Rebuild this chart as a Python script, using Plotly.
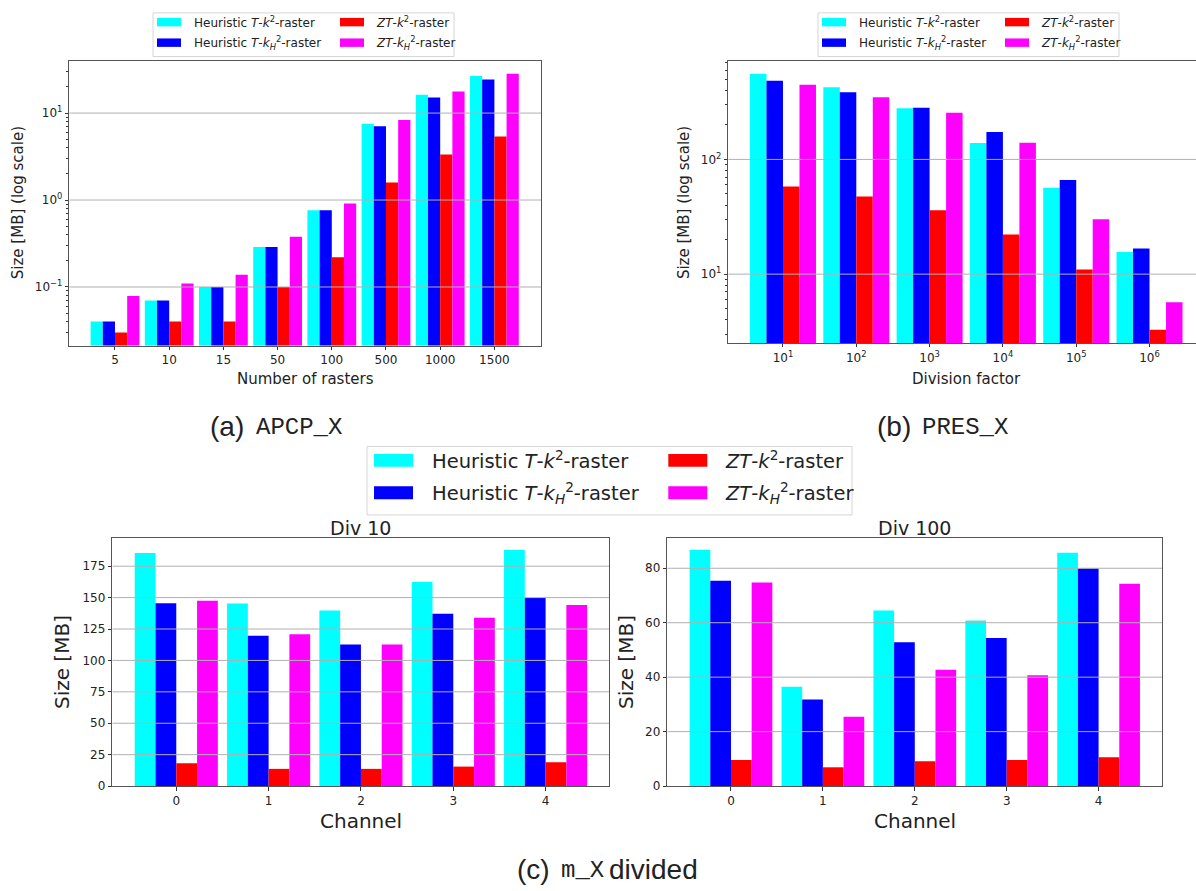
import math
import plotly.graph_objects as go

W, H = 1196, 891

# ---------------- data ----------------
SERIES_NAMES = [
    "Heuristic <i>T</i>-<i>k</i><sup>2</sup>-raster",
    "Heuristic <i>T</i>-<i>k</i><sub><i>H</i></sub><sup>2</sup>-raster",
    "<i>ZT</i>-<i>k</i><sup>2</sup>-raster",
    "<i>ZT</i>-<i>k</i><sub><i>H</i></sub><sup>2</sup>-raster",
]
COLORS = ["#00ffff", "#0000ff", "#ff0000", "#ff00ff"]

apcp_categories = ["5", "10", "15", "50", "100", "500", "1000", "1500"]
apcp_heur_k2 = [0.040, 0.070, 0.100, 0.288, 0.762, 7.56, 16.3, 26.7]
apcp_heur_k2h = [0.040, 0.070, 0.100, 0.288, 0.762, 7.04, 15.1, 24.4]
apcp_zt_k2 = [0.030, 0.040, 0.040, 0.100, 0.220, 1.59, 3.35, 5.37]
apcp_zt_k2h = [0.079, 0.110, 0.138, 0.378, 0.91, 8.32, 17.7, 28.3]

pres_categories = ["10<sup>1</sup>", "10<sup>2</sup>", "10<sup>3</sup>",
                   "10<sup>4</sup>", "10<sup>5</sup>", "10<sup>6</sup>"]
pres_heur_k2 = [557, 425, 280, 139, 56.5, 15.6]
pres_heur_k2h = [485, 385, 282, 173, 66.2, 16.7]
pres_zt_k2 = [58.0, 47.5, 36.0, 22.2, 11.0, 3.28]
pres_zt_k2h = [448, 348, 255, 140, 30.1, 5.69]

channels = ["0", "1", "2", "3", "4"]
div10_heur_k2 = [185.5, 145.3, 139.7, 162.4, 187.9]
div10_heur_k2h = [145.5, 119.7, 112.6, 137.1, 149.7]
div10_zt_k2 = [18.2, 13.7, 13.7, 15.5, 18.9]
div10_zt_k2h = [147.4, 120.8, 112.6, 133.9, 144.2]

div100_heur_k2 = [86.8, 36.5, 64.5, 60.8, 85.7]
div100_heur_k2h = [75.4, 31.8, 52.8, 54.4, 79.9]
div100_zt_k2 = [9.6, 6.9, 9.1, 9.6, 10.6]
div100_zt_k2h = [74.8, 25.5, 42.7, 40.7, 74.3]

log_ticks_a = [0.1, 1, 10]
log_labels_a = ["10<sup>\u22121</sup>", "10<sup>0</sup>", "10<sup>1</sup>"]
log_ticks_b = [10, 100]
log_labels_b = ["10<sup>1</sup>", "10<sup>2</sup>"]
lin_ticks_c1 = [0, 25, 50, 75, 100, 125, 150, 175]
lin_ticks_c2 = [0, 20, 40, 60, 80]

FONT = "DejaVu Sans"
MONO = "Liberation Mono"
SANS2 = "Liberation Sans"
TXT = "#222222"
GRID = "#b0b0b0"
FRAME = "#555555"


def fx(p):
    return p / W


def fy(p):
    return 1 - p / H


fig = go.Figure()

panels = [
    ("", apcp_categories, [apcp_heur_k2, apcp_heur_k2h, apcp_zt_k2, apcp_zt_k2h], log_ticks_a),
    ("2", pres_categories, [pres_heur_k2, pres_heur_k2h, pres_zt_k2, pres_zt_k2h], log_ticks_b),
    ("3", channels, [div10_heur_k2, div10_heur_k2h, div10_zt_k2, div10_zt_k2h], lin_ticks_c1),
    ("4", channels, [div100_heur_k2, div100_heur_k2h, div100_zt_k2, div100_zt_k2h], lin_ticks_c2),
]

xranges = {"": [-0.843, 7.86], "2": [-0.746, 5.634], "3": [-0.693, 4.69], "4": [-0.693, 4.69]}

for suf, cats, series, gticks in panels:
    xs = list(range(len(cats)))
    for name, col, vals in zip(SERIES_NAMES, COLORS, series):
        fig.add_trace(go.Bar(
            x=xs, y=vals, name=name, marker=dict(color=col, line=dict(width=0)),
            xaxis="x" + suf, yaxis="y" + suf, showlegend=False,
        ))
    # grid lines drawn above bars (matplotlib default)
    xr = xranges[suf]
    for v in gticks:
        if v == 0:
            continue
        fig.add_trace(go.Scatter(
            x=xr, y=[v, v], mode="lines", line=dict(color=GRID, width=1),
            xaxis="x" + suf, yaxis="y" + suf, showlegend=False, hoverinfo="skip",
        ))

tickfont = dict(family=FONT, size=12, color=TXT)
common_x = dict(showgrid=False, zeroline=False, showline=True, linecolor=FRAME, linewidth=1,
                ticks="outside", ticklen=3.5, tickwidth=0.8, tickcolor="#333", tickfont=tickfont,
                tickmode="array")
common_y = dict(showgrid=False, zeroline=False, showline=True, linecolor=FRAME, linewidth=1,
                ticks="outside", ticklen=3.5, tickwidth=0.8, tickcolor="#333", tickfont=tickfont,
                tickmode="array")


def minor_logs(lo, hi):
    out = []
    for e in range(int(math.floor(lo)) - 1, int(math.ceil(hi)) + 1):
        for m in range(2, 10):
            v = m * 10 ** e
            if lo <= math.log10(v) <= hi:
                out.append(v)
    return out


ya_range = [math.log10(0.0212), math.log10(39.9)]
yb_range = [math.log10(2.51), math.log10(718)]

fig.update_layout(
    width=W, height=H, margin=dict(l=0, r=0, t=0, b=0),
    paper_bgcolor="white", plot_bgcolor="white",
    barmode="group", bargap=0.1, bargroupgap=0,
    showlegend=False,
    font=dict(family=FONT, color=TXT),
    xaxis=dict(common_x, domain=[fx(69.3), fx(541)], range=xranges[""], anchor="y",
               tickvals=list(range(len(apcp_categories))), ticktext=apcp_categories, mirror=True),
    yaxis=dict(common_y, domain=[fy(348.3), fy(61.3)], type="log", range=ya_range, anchor="x",
               tickvals=log_ticks_a, ticktext=log_labels_a, mirror=True,
               minor=dict(tickmode="array", tickvals=minor_logs(*ya_range), ticks="outside",
                          ticklen=2, tickwidth=0.6, tickcolor="#333", showgrid=False)),
    xaxis2=dict(common_x, domain=[fx(728.3), 1.0], range=xranges["2"], anchor="y2",
                tickvals=list(range(len(pres_categories))), ticktext=pres_categories, mirror=True),
    yaxis2=dict(common_y, domain=[fy(345.7), fy(61.7)], type="log", range=yb_range, anchor="x2",
                tickvals=log_ticks_b, ticktext=log_labels_b, mirror=False,
                minor=dict(tickmode="array", tickvals=minor_logs(*yb_range), ticks="outside",
                           ticklen=2, tickwidth=0.6, tickcolor="#333", showgrid=False)),
    xaxis3=dict(common_x, domain=[fx(112.3), fx(609.3)], range=xranges["3"], anchor="y3",
                tickvals=list(range(len(channels))), ticktext=channels, mirror=True),
    yaxis3=dict(common_y, domain=[fy(792.3), fy(542.3)], range=[0, 197.4], anchor="x3",
                tickvals=lin_ticks_c1, mirror=True),
    xaxis4=dict(common_x, domain=[fx(667.3), fx(1162)], range=xranges["4"], anchor="y4",
                tickvals=list(range(len(channels))), ticktext=channels, mirror=True),
    yaxis4=dict(common_y, domain=[fy(792.3), fy(542.3)], range=[0, 91.1], anchor="x4",
                tickvals=lin_ticks_c2, mirror=True),
)

annotations = []
shapes = []


def add_text(text, x, y, size, angle=0, xanchor="center", family=FONT):
    annotations.append(dict(text=text, x=fx(x), y=fy(y), xref="paper", yref="paper",
                            showarrow=False, xanchor=xanchor, yanchor="middle",
                            textangle=angle, font=dict(family=family, size=size, color=TXT)))


# axis titles
add_text("Size [MB] (log scale)", 18, 204.8, 15, angle=-90)
add_text("Number of rasters", 305, 382, 15)
add_text("Size [MB] (log scale)", 684, 203.7, 15, angle=-90)
add_text("Division factor", 966, 382, 15)
add_text("Size [MB]", 62, 667.3, 20, angle=-90)
add_text("Channel", 360.8, 828, 20)
add_text("Size [MB]", 626, 667.3, 20, angle=-90)
add_text("Channel", 914.6, 828, 20)
add_text("Div 10", 360.8, 532, 19)
add_text("Div 100", 914.6, 532, 19)

# captions (sans label + typewriter name)
add_text("(a)", 246, 430, 28, xanchor="right", family=SANS2)
add_text("APCP_X", 254, 431, 24, xanchor="left", family=MONO)
add_text("(b)", 913, 430, 28, xanchor="right", family=SANS2)
add_text("PRES_X", 920, 431, 24, xanchor="left", family=MONO)
add_text("(c)", 552, 876, 28, xanchor="right", family=SANS2)
add_text("m_X", 559, 877, 24, xanchor="left", family=MONO)
add_text("divided", 607, 876, 28, xanchor="left", family=SANS2)


def add_legend(box, sw_x, text_x, rows, sw_w, sw_h, size):
    x0, y0, x1, y1 = box
    shapes.append(dict(type="rect", xref="paper", yref="paper", x0=fx(x0), x1=fx(x1),
                       y0=fy(y1), y1=fy(y0), line=dict(color="#d6d6d6", width=1),
                       fillcolor="white", layer="above"))
    order = [(0, 0, 0), (1, 0, 2), (0, 1, 1), (1, 1, 3)]
    for c, r, idx in order:
        sx = sw_x[c]
        ry = rows[r]
        shapes.append(dict(type="rect", xref="paper", yref="paper",
                           x0=fx(sx), x1=fx(sx + sw_w), y0=fy(ry + sw_h / 2), y1=fy(ry - sw_h / 2),
                           line=dict(width=0), fillcolor=COLORS[idx], layer="above"))
        add_text(SERIES_NAMES[idx], text_x[c], ry, size, xanchor="left")


add_legend((153, 13, 454, 57), [157, 340], [191.8, 373.6], [22.3, 43.0], 24, 8.5, 12)
add_legend((818, 13, 1119, 57), [822, 1005], [857, 1038.5], [22.3, 43.0], 24, 8.5, 12)
add_legend((367, 450, 852, 519), [374, 668.3], [430, 722.7], [464, 496.7], 39, 13, 19.5)

fig.update_layout(annotations=annotations, shapes=shapes)

fig.write_html("out.html")
